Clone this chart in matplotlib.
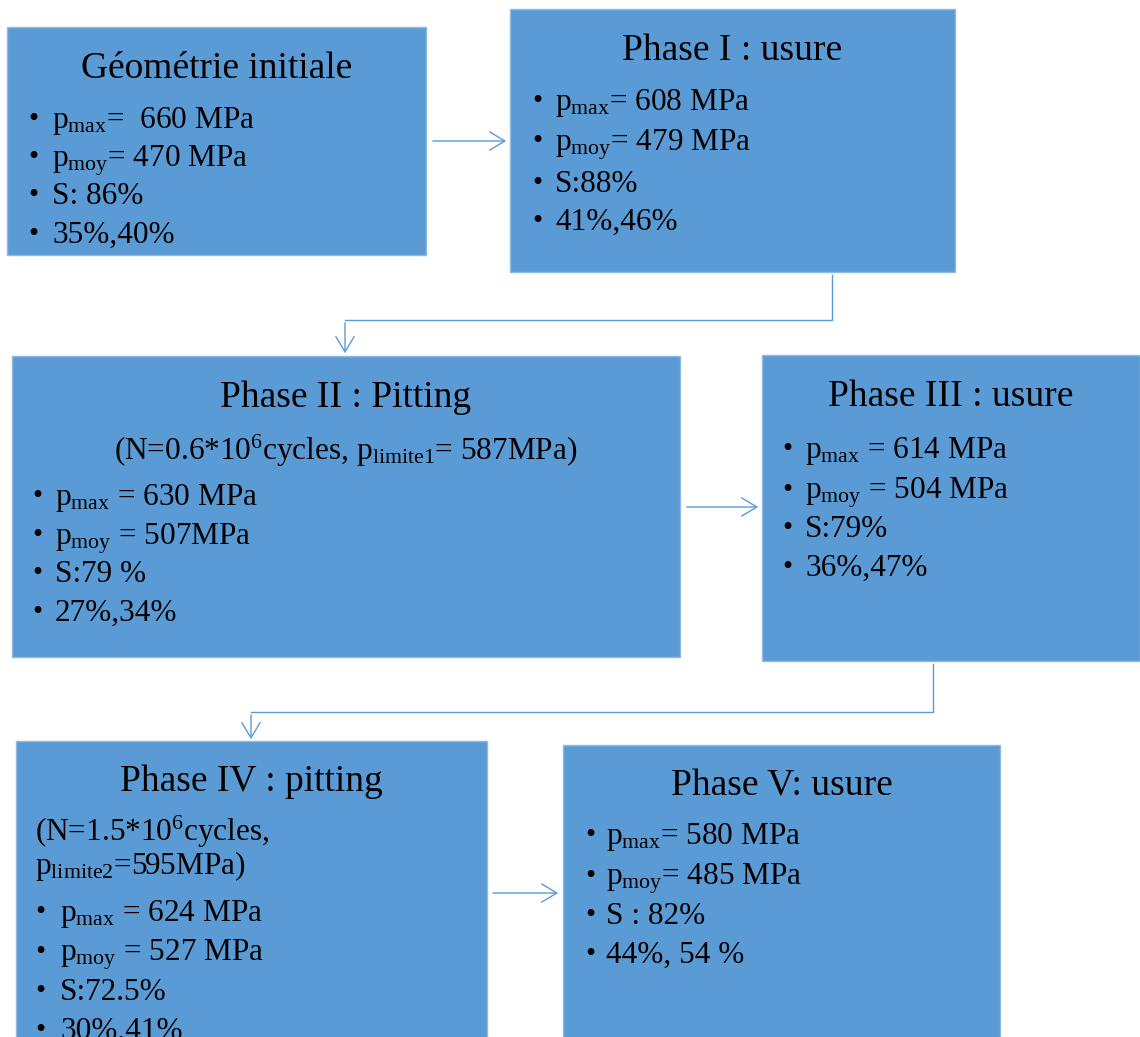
import matplotlib.pyplot as plt
from matplotlib.patches import Rectangle

plt.rcParams['font.family'] = ['Liberation Serif', 'DejaVu Serif']
plt.rcParams['mathtext.fontset'] = 'custom'
plt.rcParams['mathtext.rm'] = 'Liberation Serif'
plt.rcParams['mathtext.it'] = 'Liberation Serif:italic'

# Textes des boites
titres = ["Géométrie initiale", "Phase I : usure", "Phase II : Pitting",
          "Phase III : usure", "Phase IV : pitting", "Phase V: usure"]

ligne_pmax = [r"p$_{\mathrm{max}}$=  660 MPa", r"p$_{\mathrm{max}}$= 608 MPa",
              r"p$_{\mathrm{max}}$ = 630 MPa", r"p$_{\mathrm{max}}$ = 614 MPa",
              r"p$_{\mathrm{max}}$ = 624 MPa", r"p$_{\mathrm{max}}$= 580 MPa"]
ligne_pmoy = [r"p$_{\mathrm{moy}}$= 470 MPa", r"p$_{\mathrm{moy}}$= 479 MPa",
              r"p$_{\mathrm{moy}}$ = 507MPa", r"p$_{\mathrm{moy}}$ = 504 MPa",
              r"p$_{\mathrm{moy}}$ = 527 MPa", r"p$_{\mathrm{moy}}$= 485 MPa"]
ligne_S = ["S: 86%", "S:88%", "S:79 %", "S:79%", "S:72.5%", "S : 82%"]
ligne_pct = ["35%,40%", "41%,46%", "27%,34%", "36%,47%", "30%,41%", "44%, 54 %"]

sous_titre_II = r"(N=0.6*10$^{6}$cycles, p$_{\mathrm{limite1}}$= 587MPa)"
sous_titre_IV = [r"(N=1.5*10$^{6}$cycles,", r"p$_{\mathrm{limite2}}$=595MPa)"]

bleu = '#5B9BD5'

# position des boites (x0, y0, x1, y1) en pixels, y vers le bas
boites = [(7, 27, 426, 255), (510, 9, 955, 272), (12, 356, 680, 657),
          (762, 355, 1140, 661), (16, 741, 487, 1040), (563, 745, 1000, 1040)]
# y des titres, x puce, x texte, y des 4 puces
titre_y = [78, 60, 407, 406, 791, 795]
puce_x = [33, 537, 37, 787, 40, 590]
texte_x = [52, 555, 55, 805, 60, 606]
puces_y = [[128, 166, 204, 243], [110, 150, 192, 230], [505, 544, 582, 621],
           [458, 499, 537, 576], [921, 961, 1000, 1039], [844, 885, 924, 963]]

fig = plt.figure(figsize=(11.4, 10.37), dpi=100)
ax = fig.add_axes([0, 0, 1, 1])
ax.set_xlim(0, 1140)
ax.set_ylim(1037, 0)
ax.axis('off')

for i, (x0, y0, x1, y1) in enumerate(boites):
    ax.add_patch(Rectangle((x0, y0), x1 - x0, y1 - y0, facecolor=bleu,
                           edgecolor='#8fbbe3', lw=1))
    ax.text((x0 + x1) / 2, titre_y[i], titres[i], fontsize=27,
            ha='center', va='baseline')
    lignes = [ligne_pmax[i], ligne_pmoy[i], ligne_S[i], ligne_pct[i]]
    for y, txt in zip(puces_y[i], lignes):
        ax.text(puce_x[i], y - 1, "•", fontsize=21, ha='center', va='baseline')
        ax.text(texte_x[i], y, txt, fontsize=22.5, ha='left', va='baseline')

ax.text(346, 460, sous_titre_II, fontsize=22.5, ha='center', va='baseline')
ax.text(35, 841, sous_titre_IV[0], fontsize=22.5, ha='left', va='baseline')
ax.text(35, 874, sous_titre_IV[1], fontsize=22.5, ha='left', va='baseline')

# fleches
fl = dict(arrowstyle='->,head_length=0.5,head_width=0.3', color=bleu, lw=1,
          mutation_scale=22)


def fleche(x0, y0, x1, y1):
    ax.annotate('', xy=(x1, y1), xytext=(x0, y0), arrowprops=fl)


fleche(430, 141, 509, 141)
fleche(684, 507, 761, 507)
fleche(490, 893, 561, 893)

ax.plot([832, 832, 345], [275, 320, 320], color=bleu, lw=1)
fleche(345, 320, 345, 356)
ax.plot([933, 933, 251], [664, 712, 712], color=bleu, lw=1)
fleche(251, 712, 251, 742)

fig.savefig('out.png', dpi=100)
